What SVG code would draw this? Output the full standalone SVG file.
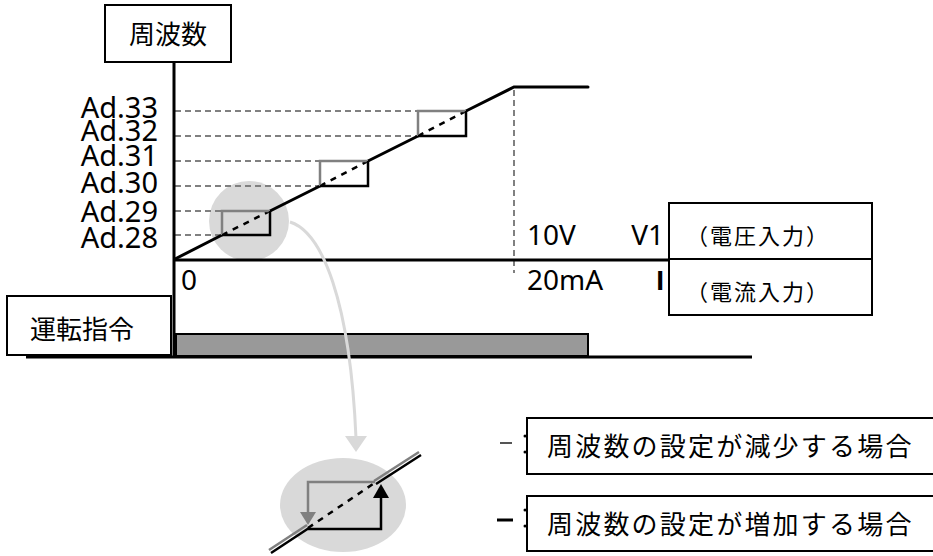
<svg xmlns="http://www.w3.org/2000/svg" width="933" height="556" viewBox="0 0 933 556">
<style>
.lbl{font-family:"Noto Sans","Liberation Sans",sans-serif;font-size:28px;fill:#000}
.ad{font-family:"Noto Sans","Liberation Sans",sans-serif;font-size:29px;fill:#000}
.jp{font-family:"Noto Sans CJK JP","Noto Sans",sans-serif;fill:#000}
.box{fill:#fff;stroke:#000;stroke-width:2}
.guide{stroke:#808080;stroke-width:2;stroke-dasharray:6 4;fill:none}
.solid{stroke:#000;stroke-width:3;fill:none;stroke-linecap:round}
.dash{stroke:#000;stroke-width:2.5;stroke-dasharray:6 6;fill:none}
.gr{stroke:#808080;stroke-width:2.5;fill:none}
.bk{stroke:#000;stroke-width:2.5;fill:none}
</style>
<rect width="933" height="556" fill="#fff"/>

<g id="zoom-circle">
<circle cx="249" cy="221" r="40" fill="#d9d9d9"/>
</g>

<g id="guides">
<path class="guide" d="M175 111H418M175 136H418M175 161H320M175 186H320M175 211H222M175 235H222M514 90V273"/>
</g>

<g id="axes">
<path d="M174 62V358" stroke="#000" stroke-width="3"/>
<path d="M174 260H669" stroke="#000" stroke-width="3"/>
</g>

<g id="freq-curve">
<path class="solid" d="M175 259L222 235M270 211L320 186M368 161L418 136M466 111L514 87H588"/>
<path class="dash" d="M222 235L270 211M320 186L368 161M418 136L466 111"/>
<path class="gr" d="M222 235V211H270"/>
<path class="bk" d="M222 235H270V211"/>
<path class="gr" d="M320 186V161H368"/>
<path class="bk" d="M320 186H368V161"/>
<path class="gr" d="M418 136V111H466"/>
<path class="bk" d="M418 136H466V111"/>
</g>

<g id="y-labels">
<text class="ad" x="158" y="118" text-anchor="end">Ad.33</text>
<text class="ad" x="158" y="141" text-anchor="end">Ad.32</text>
<text class="ad" x="158" y="166" text-anchor="end">Ad.31</text>
<text class="ad" x="158" y="193" text-anchor="end">Ad.30</text>
<text class="ad" x="158" y="222" text-anchor="end">Ad.29</text>
<text class="ad" x="158" y="248" text-anchor="end">Ad.28</text>
</g>

<g id="x-labels">
<text class="lbl" x="181" y="290">0</text>
<text class="lbl" x="527" y="245">10V</text>
<text class="lbl" x="527" y="290">20mA</text>
<text class="lbl" x="664" y="245" text-anchor="end">V1</text>
<text x="664" y="290" text-anchor="end" font-family="Liberation Sans, sans-serif" font-weight="bold" font-size="28">I</text>
</g>

<g id="freq-box">
<rect class="box" x="105" y="5" width="126" height="57"/>
<text class="jp" x="168" y="44" font-size="26" text-anchor="middle">周波数</text>
</g>

<g id="voltage-box">
<rect class="box" x="669" y="203" width="203" height="56"/>
<text class="jp" x="686" y="244" font-size="22" letter-spacing="2">（電圧入力）</text>
</g>
<g id="current-box">
<rect class="box" x="669" y="259" width="203" height="56"/>
<text class="jp" x="686" y="300" font-size="22" letter-spacing="2">（電流入力）</text>
</g>

<g id="run-box">
<rect class="box" x="7" y="296" width="164" height="59"/>
<text class="jp" x="30" y="339" font-size="26">運転指令</text>
</g>

<g id="run-bar">
<rect x="176" y="334" width="412" height="22" fill="#999" stroke="#000" stroke-width="2"/>
<path d="M26 357H752" stroke="#000" stroke-width="3"/>
</g>

<g id="connectors">
<path d="M290 222C322 232 350 300 356 438" stroke="#d9d9d9" stroke-width="3" fill="none"/>
<path d="M345 436L367 436L356 452Z" fill="#d9d9d9"/>
</g>

<g id="detail">
<ellipse cx="343" cy="505" rx="63" ry="47" fill="#d9d9d9"/>
<path d="M269 550L307 525M374 481L419 452" stroke="#808080" stroke-width="2.5"/>
<path d="M271 553L309 528M376 484L421 455" stroke="#000" stroke-width="2.5"/>
<path d="M308 528L376 482" class="dash"/>
<path d="M375 482H308V514" stroke="#808080" stroke-width="2.5" fill="none"/>
<path d="M300 512L316 512L308 525Z" fill="#808080"/>
<path d="M308 529H381V496" stroke="#000" stroke-width="2.5" fill="none"/>
<path d="M373 498L389 498L381 484Z" fill="#000"/>
</g>

<g id="legend">
<path d="M500 443H512" stroke="#555" stroke-width="2"/>
<path d="M497 520H513" stroke="#000" stroke-width="3"/>
<circle cx="525" cy="436" r="1.5" fill="#000"/>
<circle cx="525" cy="452" r="1.5" fill="#000"/>
<circle cx="525" cy="510" r="1.5" fill="#000"/>
<circle cx="525" cy="526" r="1.5" fill="#000"/>
<rect class="box" x="527" y="418" width="420" height="56"/>
<text class="jp" x="547" y="456" font-size="26" letter-spacing="2.2">周波数の設定が減少する場合</text>
<rect class="box" x="527" y="496" width="420" height="55"/>
<text class="jp" x="547" y="534" font-size="26" letter-spacing="2.2">周波数の設定が増加する場合</text>
</g>
</svg>
